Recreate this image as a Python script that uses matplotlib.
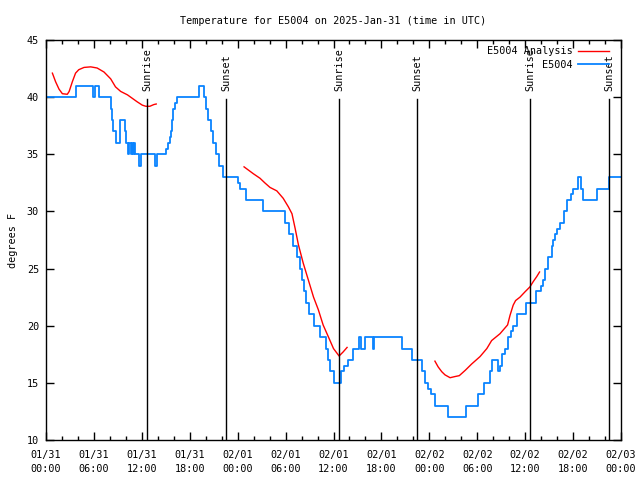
import numpy as np
import matplotlib
matplotlib.use("Agg")
import matplotlib.pyplot as plt
import matplotlib.transforms as mtransforms

nan = np.nan

# observed temperature (hours since 01/31 00:00 UTC, degF), stepped
obs_hours = [0.0, 3.7, 5.9, 6.15, 6.6, 8.1, 8.25, 8.45, 8.75, 9.25, 9.85, 10.0,
             10.3, 10.45, 10.6, 10.75, 10.9, 11.05, 11.2, 11.6, 11.9,
             13.7, 13.9, 15.05, 15.3, 15.5, 15.65, 15.8, 15.95, 16.2, 16.45, 19.1,
             19.75, 20.0, 20.3, 20.6, 20.9, 21.3, 21.6, 22.2, 24.0, 24.3, 25.0,
             27.2, 29.9, 30.4, 30.9, 31.4, 31.75, 32.0, 32.25, 32.55, 32.95, 33.5,
             34.25, 35.0, 35.3, 35.6, 36.05, 37.0, 37.35, 37.85, 38.4, 39.2, 39.4,
             39.95, 40.9, 41.1, 44.55, 45.85, 47.1, 47.5, 47.85, 48.2, 48.75,
             50.4, 52.65, 54.15, 54.9, 55.6, 55.9, 56.6, 56.9, 57.15, 57.5, 57.9,
             58.2, 58.5, 59.0, 60.1, 61.35, 61.95, 62.2, 62.5, 62.8, 63.3, 63.5,
             63.7, 64.0, 64.4, 64.8, 65.2, 65.8, 66.0, 66.6, 66.95, 67.3, 68.95,
             70.5, 72.0]
obs_temp = [40, 41, 40, 41, 40, 39, 38, 37, 36, 38, 37, 36,
            35, 36, 35, 36, 35, 36, 35, 34, 35,
            34, 35, 35.5, 36, 36.5, 37, 38, 39, 39.5, 40, 41,
            40, 39, 38, 37, 36, 35, 34, 33, 32.5, 32, 31,
            30, 29, 28, 27, 26, 25, 24, 23, 22, 21, 20,
            19, 18, 17, 16, 15, 16, 16.5, 17, 18, 19, 18,
            19, 18, 19, 18, 17, 16, 15, 14.5, 14, 13,
            12, 13, 14, 15, 16, 17, 16, 16.5, 17.5, 18, 19,
            19.5, 20, 21, 22, 23, 23.5, 24, 25, 26, 27, 27.5,
            28, 28.5, 29, 30, 31, 31.5, 32, 33, 32, 31, 32,
            33, 33]

# analysis temperature, three pieces separated by gaps
ana_hours = [0.8, 1.2, 1.63, 2.05, 2.67, 2.9, 3.3, 3.7, 4.1, 4.76, 5.6, 6.4, 7.26,
             8.1, 8.7, 9.35, 10.2, 10.8, 11.4, 12.06, 12.5, 13.0, 13.5, 13.8, nan,
             24.8, 25.96, 26.8, 27.4, 28.05, 28.9, 29.7, 30.35, 30.8, 31.2, 31.6,
             32.2, 32.85, 33.5, 34.1, 34.7, 35.35, 36.0, 36.7, 37.2, 37.7, nan,
             48.7, 49.1, 49.55, 49.96, 50.6, 51.2, 51.75, 52.5, 53.3, 54.35, 55.2,
             55.8, 56.85, 57.8, 58.1, 58.5, 58.8, 59.35, 60.0, 60.6, 61.0, 61.45,
             61.8]
ana_temp = [42.1, 41.35, 40.7, 40.3, 40.25, 40.5, 41.35, 42.1, 42.4, 42.6, 42.65,
            42.55, 42.2, 41.6, 40.9, 40.5, 40.2, 39.9, 39.6, 39.3, 39.2, 39.2,
            39.35, 39.4, nan,
            33.9, 33.3, 32.9, 32.5, 32.1, 31.8, 31.15, 30.4, 29.8, 28.5, 27.1,
            25.5, 24.0, 22.5, 21.4, 20.07, 19.04, 18.0, 17.35, 17.7, 18.1, nan,
            16.9, 16.4, 15.98, 15.7, 15.45, 15.55, 15.63, 16.1, 16.65, 17.3, 18.0,
            18.7, 19.3, 20.07, 20.9, 21.8, 22.2, 22.5, 22.98, 23.4, 23.85, 24.3,
            24.7]

sun_hours = [12.7, 22.53, 36.7, 46.5, 60.65, 70.53]
sun_labels = ["Sunrise", "Sunset", "Sunrise", "Sunset", "Sunrise", "Sunset"]

tick_hours = list(range(0, 73, 6))
tick_labels = ["01/31\n00:00", "01/31\n06:00", "01/31\n12:00", "01/31\n18:00",
               "02/01\n00:00", "02/01\n06:00", "02/01\n12:00", "02/01\n18:00",
               "02/02\n00:00", "02/02\n06:00", "02/02\n12:00", "02/02\n18:00",
               "02/03\n00:00"]

plt.rcParams['font.family'] = ['DejaVu Sans Mono']
fs = 7.3

fig = plt.figure(figsize=(6.4, 4.8), dpi=100)
ax = fig.add_axes([46 / 640, 40 / 480, 575 / 640, 400 / 480])

ax.plot(ana_hours, ana_temp, color='#ff0000', lw=1.0, label='E5004 Analysis')
ax.plot(obs_hours, obs_temp, color='#0a84ff', lw=1.3, drawstyle='steps-post',
        label='E5004')

trans = mtransforms.blended_transform_factory(ax.transData, ax.transAxes)
for h, lab in zip(sun_hours, sun_labels):
    ax.axvline(h, ymin=0, ymax=0.852, color='black', lw=1.0)
    ax.text(h, 0.872, lab, transform=trans, rotation=90, ha='center',
            va='bottom', fontsize=fs)

ax.set_xlim(0, 72)
ax.set_ylim(10, 45)
ax.set_xticks(tick_hours)
ax.set_xticklabels(tick_labels)
ax.set_xticks(range(0, 73, 2), minor=True)
ax.set_yticks(range(10, 46, 5))
for lbl in ax.get_xticklabels():
    lbl.set_linespacing(1.5)
ax.tick_params(axis='both', which='both', direction='in', top=True, right=True,
               labelsize=fs, width=1.0)
ax.tick_params(axis='both', which='major', length=6)
ax.tick_params(axis='x', which='minor', length=3)
ax.tick_params(axis='x', which='major', pad=7)
ax.tick_params(axis='y', which='major', pad=5)
for s in ax.spines.values():
    s.set_linewidth(1.0)

ax.set_ylabel('degrees F', fontsize=fs, labelpad=6)
ax.set_title('Temperature for E5004 on 2025-Jan-31 (time in UTC)', fontsize=fs,
             pad=11.5)

ax.legend(loc='upper right', bbox_to_anchor=(0.986, 0.995), frameon=False,
          markerfirst=False, fontsize=fs, handlelength=3.0, handletextpad=0.6,
          labelspacing=0.35, borderaxespad=0.2, borderpad=0.2)

fig.savefig('out.png', dpi=100)
